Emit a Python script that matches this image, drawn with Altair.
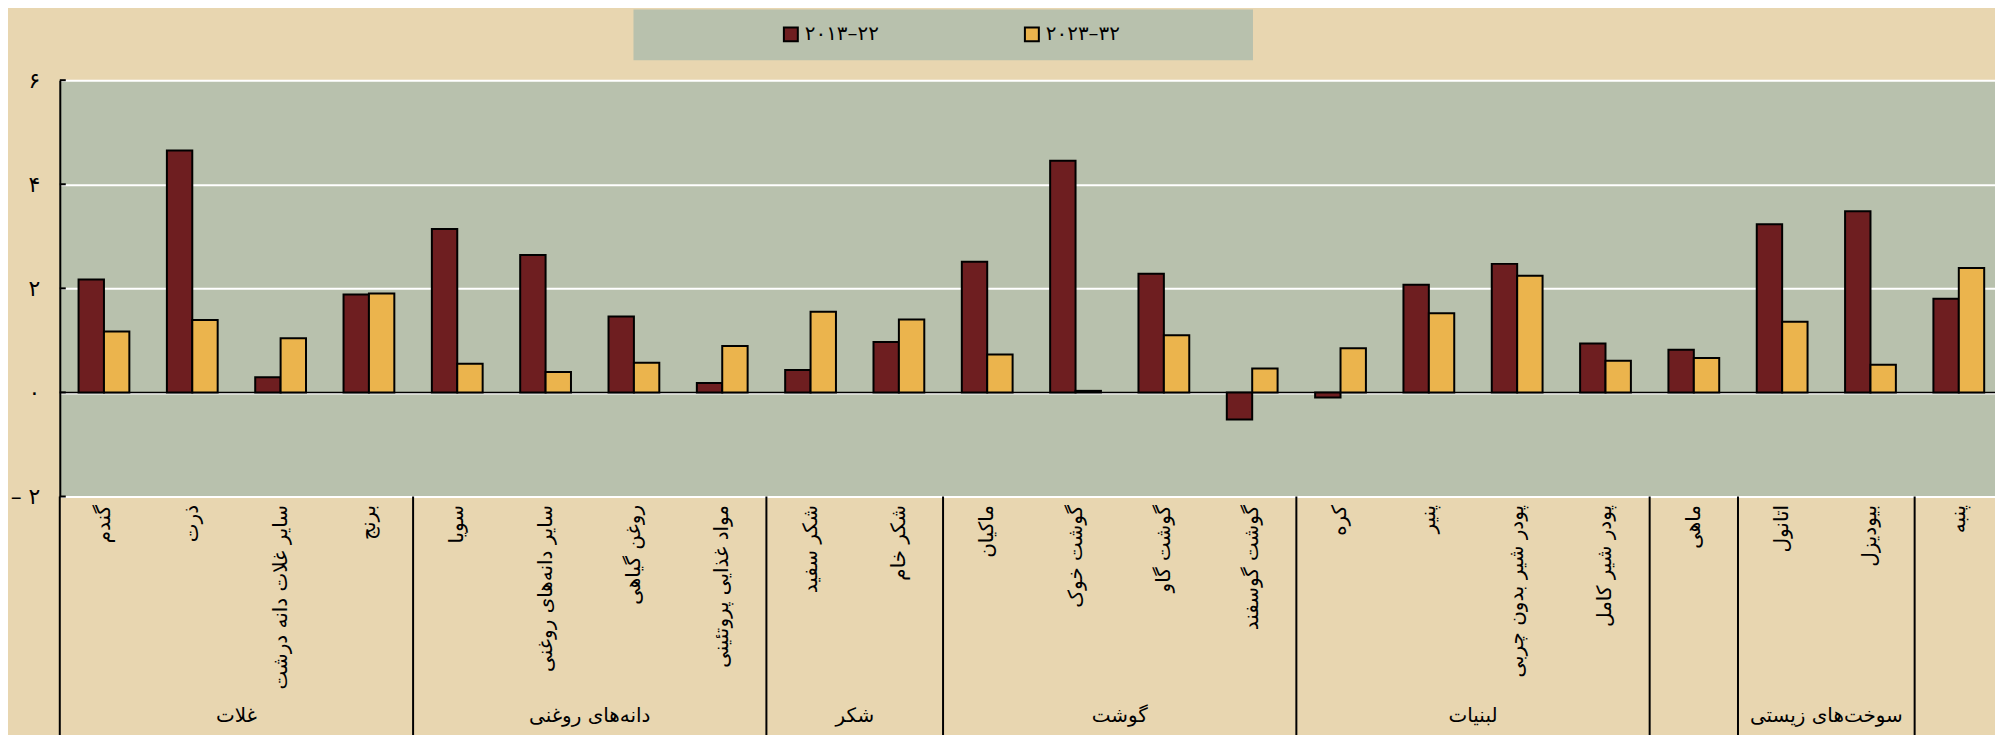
import altair as alt
import pandas as pd

# ---------------- data ----------------
items = [
    "گندم", "ذرت", "سایر غلات دانه درشت", "برنج",
    "سویا", "سایر دانه‌های روغنی", "روغن گیاهی", "مواد غذایی پروتئینی",
    "شکر سفید", "شکر خام",
    "ماکیان", "گوشت خوک", "گوشت گاو", "گوشت گوسفند",
    "کره", "پنیر", "پودر شیر بدون چربی", "پودر شیر کامل",
    "ماهی",
    "اتانول", "بیودیزل",
    "پنبه",
]
group_names = ["غلات", "دانه‌های روغنی", "شکر", "گوشت", "لبنیات", "", "سوخت‌های زیستی", ""]
group_sizes = [4, 4, 2, 4, 4, 1, 2, 1]
periods = ["۲۰۱۳–۲۲", "۲۰۲۳–۳۲"]
values_2013_22 = [2.17, 4.65, 0.29, 1.88, 3.14, 2.64, 1.46, 0.18, 0.43, 0.97, 2.51,
                  4.45, 2.28, -0.52, -0.10, 2.07, 2.47, 0.94, 0.82, 3.23, 3.48, 1.80]
values_2023_32 = [1.17, 1.39, 1.04, 1.90, 0.55, 0.39, 0.57, 0.89, 1.55, 1.40, 0.73,
                  0.03, 1.10, 0.46, 0.85, 1.52, 2.24, 0.61, 0.66, 1.36, 0.53, 2.39]
y_ticks = [-2, 0, 2, 4, 6]

rows = []
for i, it in enumerate(items):
    rows.append({"item": it, "period": periods[0], "value": values_2013_22[i]})
    rows.append({"item": it, "period": periods[1], "value": values_2023_32[i]})
df = pd.DataFrame(rows)

bounds = [0]
for s in group_sizes:
    bounds.append(bounds[-1] + s)
div_df = pd.DataFrame({"pos": bounds})
lab_df = pd.DataFrame({
    "mid": [(bounds[i] + bounds[i + 1]) / 2 for i in range(len(group_sizes))],
    "name": group_names,
})
tick_df = pd.DataFrame({"y": y_ticks})

# ---------------- style ----------------
FONT = "DejaVu Sans"
BEIGE = "#e8d6b0"
GREEN = "#b8c1ad"
DARK = "#6e1e20"
YELLOW = "#ebb44d"
PLOT_W = 1943
PLOT_H = 418
RANGE_W = 1951
N = len(items)

lin_scale = alt.Scale(domain=[0, N], range=[0, RANGE_W], nice=False, zero=False)
y_scale = alt.Scale(domain=[-2, 6], nice=False)

legend_box = alt.Chart(alt.Data(values=[{}])).mark_rect(fill=GREEN).encode(
    x=alt.value(576), x2=alt.value(1198), y=alt.value(-71), y2=alt.value(-20)
)

zero_rule = alt.Chart(pd.DataFrame({"y": [0]})).mark_rule(
    color="black", strokeWidth=1.5
).encode(y=alt.Y("y:Q", scale=y_scale))

label_expr = ("datum.value == 6 ? '۶' : datum.value == 4 ? '۴' : datum.value == 2 ? '۲' : "
              "datum.value == 0 ? '۰' : '– ۲'")

bars = alt.Chart(df).mark_bar(stroke="black", strokeWidth=2).encode(
    x=alt.X(
        "item:N", sort=items,
        scale=alt.Scale(domain=items, range=[0, RANGE_W], paddingInner=0.425, paddingOuter=0.2125),
        axis=alt.Axis(title=None, labelAngle=270, labelFontSize=20, labelPadding=8,
                      labelLimit=400, domain=False, ticks=False, grid=False,
                      labelColor="black", labelFont=FONT),
    ),
    xOffset=alt.XOffset("period:N", sort=periods,
                        scale=alt.Scale(domain=periods, paddingInner=0, paddingOuter=0)),
    y=alt.Y(
        "value:Q", scale=y_scale,
        axis=alt.Axis(values=y_ticks, title=None, labelExpr=label_expr, labelFontSize=22,
                      labelPadding=20, ticks=False, domain=True, domainColor="black",
                      domainWidth=2, grid=True, gridColor="white", gridWidth=2,
                      labelColor="black", labelFont=FONT),
    ),
    color=alt.Color(
        "period:N", sort=periods, scale=alt.Scale(domain=periods, range=[DARK, YELLOW]),
        legend=alt.Legend(title=None, orient="none", legendX=724, legendY=-56,
                          direction="horizontal", columns=2, symbolType="square",
                          symbolSize=196, symbolStrokeColor="black", symbolStrokeWidth=2,
                          labelFontSize=20, labelFont=FONT, labelColor="black",
                          labelOffset=4, columnPadding=142, padding=0),
    ),
)

inner_ticks = alt.Chart(tick_df).mark_rule(color="black", strokeWidth=2).encode(
    y=alt.Y("y:Q", scale=y_scale), x=alt.value(0), x2=alt.value(6)
)

dividers = alt.Chart(div_df).mark_rule(color="black", strokeWidth=2).encode(
    x=alt.X("pos:Q", scale=lin_scale, axis=None),
    y=alt.value(PLOT_H), y2=alt.value(PLOT_H + 260),
)

group_labels = alt.Chart(lab_df).mark_text(
    fontSize=20, font=FONT, baseline="middle", align="center", color="black"
).encode(
    x=alt.X("mid:Q", scale=lin_scale, axis=None),
    y=alt.value(638),
    text="name:N",
)

chart = alt.layer(legend_box, zero_rule, bars, inner_ticks, dividers, group_labels).resolve_scale(
    x="independent"
).properties(
    width=PLOT_W, height=PLOT_H,
    autosize=alt.AutoSizeParams(type="none"),
    padding={"left": 52, "top": 71, "right": 0, "bottom": 238},
).configure(
    background=BEIGE,
).configure_view(
    fill=GREEN, stroke=None,
)

chart.save("out.html", embed_options={"renderer": "svg", "actions": False})
